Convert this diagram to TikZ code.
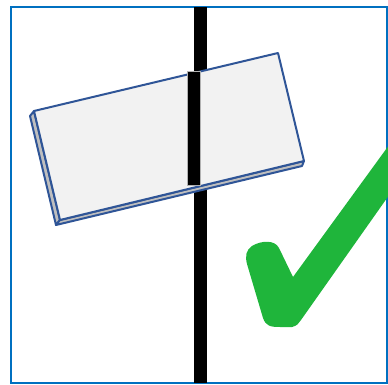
\documentclass[tikz,border=0pt]{standalone}
\usepackage{tikz}
\definecolor{frameblue}{HTML}{0070C0}
\definecolor{boardblue}{HTML}{2F5597}
\definecolor{boardfill}{HTML}{F2F2F2}
\definecolor{sidefill}{HTML}{BFBFBF}
\definecolor{checkgreen}{HTML}{1FB53B}
\tikzset{
  frame/.style={draw=frameblue, line width=2pt},
  boardface/.style={draw=boardblue, fill=boardfill, line width=2pt, line join=round},
  boardside/.style={draw=boardblue, fill=sidefill, line width=2pt, line join=round},
  pole/.style={fill=black},
  bar/.style={fill=black, draw=gray!60, line width=0.4pt},
  tick/.style={fill=checkgreen}
}
\begin{document}
\begin{tikzpicture}[x=1pt,y=-1pt]
\useasboundingbox (0,0) rectangle (388,385);
\begin{scope}
\clip (0,0) rectangle (388,385);
% frame
\draw[frame] (11,7) rectangle (387,383);
% pole
\fill[pole] (193.5,7) rectangle (206.5,383);
% board corners
\coordinate (A) at (34,111);
\coordinate (B) at (278,53);
\coordinate (C) at (304,161);
\coordinate (D) at (60,220);
\coordinate (A2) at (30,116);
\coordinate (D2) at (56,225);
\coordinate (C2) at (302,166);
\draw[boardside] (A) -- (A2) -- (D2) -- (D) -- cycle;
\draw[boardside] (D) -- (D2) -- (C2) -- (C) -- cycle;
\draw[boardface] (A) -- (B) -- (C) -- (D) -- cycle;
% bar on board
\draw[bar] (187,71.5) rectangle (200,185);
% check mark
\fill[tick] (392,141) -- (293,277) -- (279,248)
  .. controls (275,240) and (262,240) .. (252,246)
  .. controls (246,250) and (245,256) .. (247,264)
  -- (263,318)
  .. controls (266,326) and (270,327) .. (280,327)
  -- (292,327)
  .. controls (297,326) and (299,323) .. (301,320)
  -- (392,191) -- cycle;
\end{scope}
\end{tikzpicture}
\end{document}
